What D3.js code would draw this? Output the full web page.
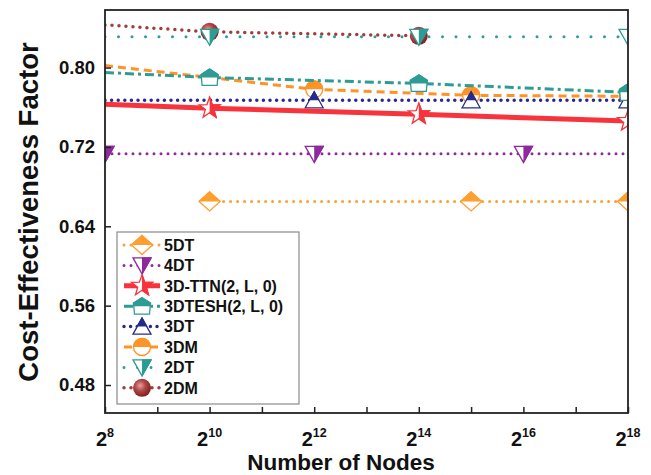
<!DOCTYPE html>
<html>
<head>
<meta charset="utf-8">
<script src="https://cdn.jsdelivr.net/npm/d3@7/dist/d3.min.js"></script>
<style>
  html, body { margin: 0; padding: 0; background: #fff; }
  svg { display: block; font-family: "Liberation Sans", Arial, sans-serif; font-weight: bold; }
</style>
</head>
<body>
<svg id="chart" width="651" height="475"></svg>
<script>
// ---- data: x values are exponents of 2 (number of nodes = 2^x) ----
const xTickExps = [8, 10, 12, 14, 16, 18];
const yTickValues = [0.48, 0.56, 0.64, 0.72, 0.80];

const seriesNames = ["5DT", "4DT", "3D-TTN(2, L, 0)", "3DTESH(2, L, 0)", "3DT", "3DM", "2DT", "2DM"];

const x5DT = [10, 15, 18];
const y5DT = [0.665, 0.665, 0.665];
const m5DT = [10, 15, 18];

const x4DT = [8, 12, 16, 18];
const y4DT = [0.713, 0.713, 0.713, 0.713];
const m4DT = [8, 12, 16];

const xTTN = [8, 10, 14, 18];
const yTTN = [0.763, 0.759, 0.753, 0.746];
const mTTN = [10, 14, 18];

const xTESH = [8, 10, 14, 18];
const yTESH = [0.795, 0.790, 0.784, 0.775];
const mTESH = [10, 14, 18];

const x3DT = [8, 12, 15, 18];
const y3DT = [0.767, 0.767, 0.767, 0.767];
const m3DT = [12, 15, 18];

const x3DM = [8, 12, 15, 18];
const y3DM = [0.802, 0.778, 0.772, 0.771];
const m3DM = [12, 15, 18];

const x2DT = [8, 10, 14, 18];
const y2DT = [0.831, 0.831, 0.831, 0.831];
const m2DT = [10, 14, 18];

const x2DM = [8, 10, 14];
const y2DM = [0.843, 0.836, 0.832];
const m2DM = [10, 14];

// ---- styles per series ----
const styles = {
  "5DT":             { color: "#FF9F2F", width: 3,   dash: "0,7",      cap: "round", marker: "diamond" },
  "4DT":             { color: "#8E2A9C", width: 3,   dash: "0,7",      cap: "round", marker: "tridown" },
  "3D-TTN(2, L, 0)": { color: "#F8333C", width: 5,   dash: null,       cap: "butt",  marker: "star" },
  "3DTESH(2, L, 0)": { color: "#2E9C94", width: 3,   dash: "9,4,3,4",  cap: "butt",  marker: "house" },
  "3DT":             { color: "#262A8E", width: 3.5, dash: "0,6.6",    cap: "round", marker: "triup" },
  "3DM":             { color: "#FF9326", width: 3,   dash: "8,5",      cap: "butt",  marker: "circle" },
  "2DT":             { color: "#2A9D95", width: 3,   dash: "0,13.5",   cap: "round", marker: "tridown" },
  "2DM":             { color: "#A03C3C", width: 3.5, dash: "0,7",      cap: "round", marker: "sphere" }
};

const seriesData = {
  "5DT": [x5DT, y5DT, m5DT],
  "4DT": [x4DT, y4DT, m4DT],
  "3D-TTN(2, L, 0)": [xTTN, yTTN, mTTN],
  "3DTESH(2, L, 0)": [xTESH, yTESH, mTESH],
  "3DT": [x3DT, y3DT, m3DT],
  "3DM": [x3DM, y3DM, m3DM],
  "2DT": [x2DT, y2DT, m2DT],
  "2DM": [x2DM, y2DM, m2DM]
};

// ---- layout ----
const plot = { left: 105, right: 628, top: 10, bottom: 413 };
const svg = d3.select("#chart");

const x = d3.scaleLinear().domain([8, 18]).range([plot.left, plot.right]);
const y = d3.scaleLinear().domain([0.4518, 0.858]).range([plot.bottom, plot.top]);

const defs = svg.append("defs");
defs.append("clipPath").attr("id", "plotClip")
  .append("rect")
  .attr("x", plot.left).attr("y", plot.top)
  .attr("width", plot.right - plot.left).attr("height", plot.bottom - plot.top);
// half-marker clips in marker-local coordinates
defs.append("clipPath").attr("id", "halfTop")
  .append("rect").attr("x", -20).attr("y", -20).attr("width", 40).attr("height", 20);
defs.append("clipPath").attr("id", "halfRight")
  .append("rect").attr("x", 0).attr("y", -20).attr("width", 20).attr("height", 40);
const grad = defs.append("radialGradient").attr("id", "ball")
  .attr("cx", "40%").attr("cy", "38%").attr("r", "65%");
grad.append("stop").attr("offset", "0%").attr("stop-color", "#E8A0A0");
grad.append("stop").attr("offset", "45%").attr("stop-color", "#B24848");
grad.append("stop").attr("offset", "100%").attr("stop-color", "#7A1E1E");

// marker shapes centred at the origin
function starPath(ro, ri) {
  const pts = [];
  for (let i = 0; i < 10; i++) {
    const r = i % 2 === 0 ? ro : ri;
    const a = -Math.PI / 2 + i * Math.PI / 5;
    pts.push([r * Math.cos(a), r * Math.sin(a)]);
  }
  return "M" + pts.map(p => p.join(",")).join("L") + "Z";
}
const shapes = {
  diamond: { d: "M0,-9.5L10.5,0L0,9.5L-10.5,0Z", half: "halfTop" },
  tridown: { d: "M-9,-7.5L9,-7.5L0,8.5Z", half: "halfRight" },
  triup:   { d: "M0,-8.5L9,7.5L-9,7.5Z", half: "halfTop" },
  star:    { d: starPath(11, 4.5), half: "halfRight" },
  house:   { d: "M0,-8.5L8.5,-3L7.5,8L-7.5,8L-8.5,-3Z", half: "halfTop" },
  circle:  { d: "M-8.5,0A8.5,8.5 0 1,0 8.5,0A8.5,8.5 0 1,0 -8.5,0Z", half: "halfTop" }
};

function drawMarker(g, type, cx, cy, color) {
  const m = g.append("g").attr("transform", `translate(${cx},${cy})`);
  if (type === "sphere") {
    m.append("circle").attr("r", 9).attr("fill", "url(#ball)");
    return;
  }
  const s = shapes[type];
  m.append("path").attr("d", s.d).attr("fill", "#fff")
    .attr("stroke", color).attr("stroke-width", 1.3).attr("stroke-linejoin", "miter");
  m.append("path").attr("d", s.d).attr("fill", color)
    .attr("stroke", color).attr("stroke-width", 1.3)
    .attr("clip-path", `url(#${s.half})`);
}

// ---- series (drawn bottom-up: last legend entry first) ----
const plotG = svg.append("g").attr("clip-path", "url(#plotClip)");
const line = d3.line().x(d => x(d[0])).y(d => y(d[1]));

seriesNames.slice().reverse().forEach(name => {
  const [xs, ys, ms] = seriesData[name];
  const st = styles[name];
  const pts = xs.map((v, i) => [v, ys[i]]);
  const g = plotG.append("g");
  g.append("path").datum(pts).attr("d", line)
    .attr("fill", "none").attr("stroke", st.color)
    .attr("stroke-width", st.width)
    .attr("stroke-linecap", st.cap)
    .attr("stroke-dasharray", st.dash);
  pts.filter(p => ms.includes(p[0])).forEach(p => {
    drawMarker(g, st.marker, x(p[0]), y(p[1]), st.color);
  });
});

// ---- frame and ticks ----
const axisColor = "#222";
svg.append("rect")
  .attr("x", plot.left).attr("y", plot.top)
  .attr("width", plot.right - plot.left).attr("height", plot.bottom - plot.top)
  .attr("fill", "none").attr("stroke", axisColor).attr("stroke-width", 1.8);

// x axis (inward ticks at every exponent)
const xAxis = d3.axisBottom(x)
  .tickValues(d3.range(8, 19))
  .tickSize(-6).tickSizeOuter(0).tickFormat("");
const xg = svg.append("g").attr("transform", `translate(0,${plot.bottom})`).call(xAxis);
xg.select(".domain").remove();
xg.selectAll(".tick line").attr("stroke", axisColor).attr("stroke-width", 1.5);

xTickExps.forEach(e => {
  const t = svg.append("text")
    .attr("x", x(e)).attr("y", 446)
    .attr("text-anchor", "middle").attr("fill", "#111");
  t.append("tspan").attr("font-size", 20).text("2");
  t.append("tspan").attr("font-size", 12.5).attr("dy", -9).text(e);
});

// y axis (inward ticks)
const yAxis = d3.axisLeft(y)
  .tickValues(yTickValues)
  .tickSize(-6).tickSizeOuter(0)
  .tickFormat(d3.format(".2f"));
const yg = svg.append("g").attr("transform", `translate(${plot.left},0)`).call(yAxis);
yg.select(".domain").remove();
yg.selectAll(".tick line").attr("stroke", axisColor).attr("stroke-width", 1.5);
yg.selectAll(".tick text")
  .attr("x", -10).attr("font-size", 18.5).attr("font-weight", "bold")
  .attr("font-family", "Liberation Sans, Arial, sans-serif").attr("fill", "#111");

// axis titles
svg.append("text")
  .attr("x", 341).attr("y", 470)
  .attr("text-anchor", "middle").attr("font-size", 22.5).attr("fill", "#111")
  .text("Number of Nodes");
svg.append("text")
  .attr("transform", `translate(38,212) rotate(-90)`)
  .attr("text-anchor", "middle").attr("font-size", 27.5).attr("fill", "#111")
  .text("Cost-Effectiveness Factor");

// ---- legend ----
const legend = svg.append("g");
legend.append("rect")
  .attr("x", 117).attr("y", 232).attr("width", 182).attr("height", 172)
  .attr("fill", "#fff").attr("stroke", "#8a8a8a").attr("stroke-width", 1.2);

seriesNames.forEach((name, i) => {
  const st = styles[name];
  const cy = 245 + i * 20.4;
  const g = legend.append("g");
  g.append("line")
    .attr("x1", 124).attr("x2", 160).attr("y1", cy).attr("y2", cy)
    .attr("stroke", st.color).attr("stroke-width", st.width)
    .attr("stroke-linecap", st.cap).attr("stroke-dasharray", st.dash);
  drawMarker(g, st.marker, 142, cy, st.color);
  g.append("text")
    .attr("x", 164).attr("y", cy).attr("dy", "0.36em")
    .attr("font-size", 16).attr("fill", "#111")
    .text(name);
});
</script>
</body>
</html>
